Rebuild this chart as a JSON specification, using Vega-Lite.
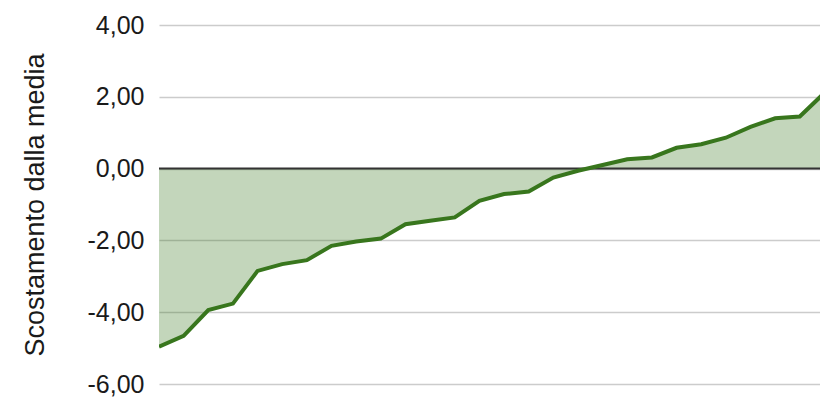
{
  "$schema": "https://vega.github.io/schema/vega-lite/v6.json",
  "width": 661,
  "height": 359,
  "autosize": "none",
  "padding": {"left": 159, "top": 25, "right": 0, "bottom": 16},
  "background": "white",
  "config": {
    "view": {"stroke": null},
    "font": "Liberation Sans"
  },
  "data": {
    "values": [
      {"i": 1, "v": -4.96},
      {"i": 2, "v": -4.66},
      {"i": 3, "v": -3.94},
      {"i": 4, "v": -3.76},
      {"i": 5, "v": -2.85},
      {"i": 6, "v": -2.66},
      {"i": 7, "v": -2.55},
      {"i": 8, "v": -2.15},
      {"i": 9, "v": -2.03},
      {"i": 10, "v": -1.95},
      {"i": 11, "v": -1.55},
      {"i": 12, "v": -1.45},
      {"i": 13, "v": -1.36},
      {"i": 14, "v": -0.90},
      {"i": 15, "v": -0.71},
      {"i": 16, "v": -0.64},
      {"i": 17, "v": -0.25},
      {"i": 18, "v": -0.06},
      {"i": 19, "v": 0.10},
      {"i": 20, "v": 0.26},
      {"i": 21, "v": 0.31},
      {"i": 22, "v": 0.58},
      {"i": 23, "v": 0.68},
      {"i": 24, "v": 0.86},
      {"i": 25, "v": 1.16},
      {"i": 26, "v": 1.40},
      {"i": 27, "v": 1.45},
      {"i": 28, "v": 2.11}
    ]
  },
  "encoding": {
    "x": {"field": "i", "type": "quantitative", "scale": {"domain": [1, 27.82], "nice": false, "zero": false}, "axis": null}
  },
  "layer": [
    {
      "mark": {"type": "area", "color": "#38761d", "opacity": 0.3, "clip": true},
      "encoding": {
        "y": {
          "field": "v",
          "type": "quantitative",
          "scale": {"domain": [-6, 4], "nice": false},
          "axis": {
            "values": [-6, -4, -2, 0, 2, 4],
            "labelExpr": "replace(replace(format(datum.value, '.2f'), '.', ','), '\u2212', '-')",
            "labelFontSize": 25,
            "labelColor": "#1a1a1a",
            "labelPadding": 15,
            "ticks": false,
            "domain": false,
            "grid": true,
            "gridColor": "#cccccc",
            "gridWidth": 1.5,
            "title": "Scostamento dalla media",
            "titleFontSize": 27,
            "titleFontWeight": "normal",
            "titleColor": "#1a1a1a",
            "titlePadding": 38
          }
        }
      }
    },
    {
      "data": {"values": [{"z": 0}]},
      "mark": {"type": "rule", "color": "#333333", "strokeWidth": 2},
      "encoding": {
        "x": {"value": 0},
        "x2": {"value": 661},
        "y": {"field": "z", "type": "quantitative"}
      }
    },
    {
      "mark": {"type": "line", "color": "#38761d", "strokeWidth": 4, "clip": true},
      "encoding": {
        "y": {"field": "v", "type": "quantitative"}
      }
    }
  ]
}
